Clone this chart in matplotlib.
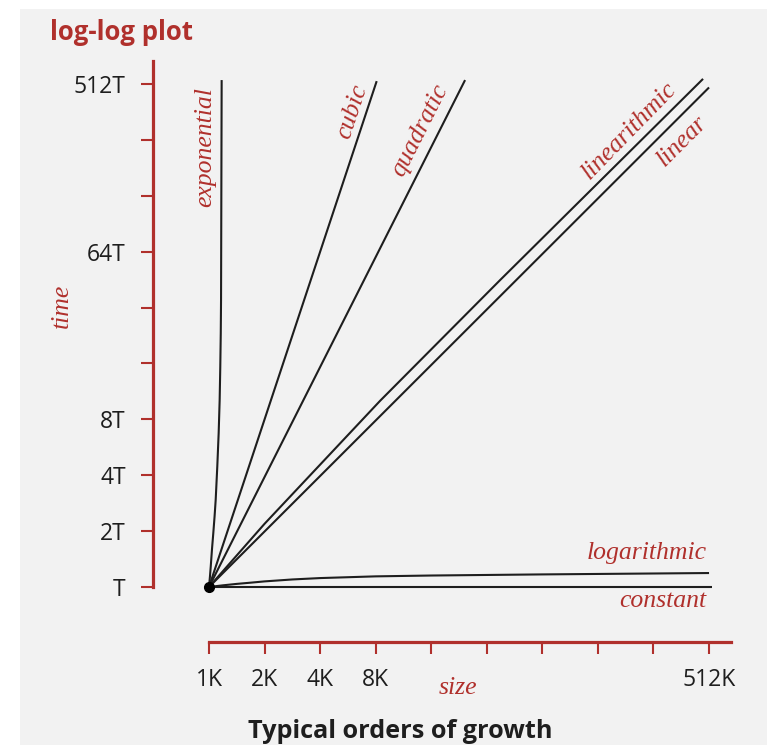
import matplotlib
matplotlib.use("Agg")
import matplotlib.pyplot as plt
from matplotlib.patches import Rectangle
from matplotlib.ticker import FixedLocator, FixedFormatter, NullLocator

# ---------------- data (sizes in K, times in T) ----------------
tick_values = [1, 2, 4, 8, 16, 32, 64, 128, 256, 512]
x_tick_labels = ["1K", "2K", "4K", "8K", "", "", "", "", "", "512K"]
y_tick_labels = ["T", "2T", "4T", "8T", "", "", "64T", "", "", "512T"]

constant_size = [1, 530]
constant_time = [1, 1]

log_size = [1, 1.19, 1.41, 1.68, 2, 2.83, 4, 8, 16, 64, 512]
log_time = [1, 1.021, 1.039, 1.055, 1.072, 1.098, 1.117, 1.141, 1.153, 1.169, 1.189]

linear_size = [1, 512]
linear_time = [1, 490]

nlogn_size = [1, 2, 8.45, 37.8, 475]
nlogn_time = [1, 2.19, 10.06, 45, 545]

quad_size = [1, 24.4]
quad_time = [1, 537]

cubic_size = [1, 8.1]
cubic_time = [1, 530]

exp_size = [1, 1.012, 1.022, 1.038, 1.055, 1.072, 1.087, 1.109, 1.128, 1.142, 1.151, 1.158, 1.162, 1.171]
exp_time = [1, 1.14, 1.29, 1.6, 1.95, 2.4, 2.95, 4.47, 6.73, 10.1, 15.3, 23.3, 35.0, 537]

# ---------------- style ----------------
RED = "#b0302c"
INK = "#1e1e1e"
W, H = 767, 745
SANS = ["Open Sans", "DejaVu Sans"]
SERIF = ["Liberation Serif", "DejaVu Serif"]

fig = plt.figure(figsize=(W / 100, H / 100), dpi=100)
fig.patch.set_facecolor("white")
fig.patches.append(Rectangle((20 / W, 0), 1, 1 - 9 / H, transform=fig.transFigure,
                             facecolor="#f2f2f2", edgecolor="none", zorder=-10))

ax = fig.add_axes([153 / W, 1 - 642 / H, (731 - 153) / W, (642 - 61) / H])
ax.set_facecolor("none")
ax.set_xscale("log", base=2)
ax.set_yscale("log", base=2)
ax.set_xlim(2 ** -1.008, 2 ** 9.395)
ax.set_ylim(2 ** -0.984, 2 ** 9.41)

for s in ["top", "right"]:
    ax.spines[s].set_visible(False)
for s in ["left", "bottom"]:
    ax.spines[s].set_color(RED)
    ax.spines[s].set_linewidth(2.3)
ax.spines["left"].set_bounds(1, 2 ** 9.41)
ax.spines["bottom"].set_bounds(1, 2 ** 9.395)

ax.xaxis.set_major_locator(FixedLocator(tick_values))
ax.xaxis.set_major_formatter(FixedFormatter(x_tick_labels))
ax.yaxis.set_major_locator(FixedLocator(tick_values))
ax.yaxis.set_major_formatter(FixedFormatter(y_tick_labels))
ax.xaxis.set_minor_locator(NullLocator())
ax.yaxis.set_minor_locator(NullLocator())
ax.tick_params(axis="both", which="major", direction="out", length=8.6, width=1.5,
               color=RED, labelcolor=INK, labelsize=16.5)
ax.tick_params(axis="y", pad=11)
ax.tick_params(axis="x", pad=10)
for lab in ax.get_xticklabels() + ax.get_yticklabels():
    lab.set_family(SANS)

lw = 1.5
for xs, ys in [(constant_size, constant_time), (log_size, log_time),
               (linear_size, linear_time), (nlogn_size, nlogn_time),
               (quad_size, quad_time), (cubic_size, cubic_time),
               (exp_size, exp_time)]:
    ax.plot(xs, ys, color=INK, lw=lw, solid_capstyle="butt", solid_joinstyle="round",
            clip_on=False)
ax.plot([1], [1], "o", color="black", ms=7, clip_on=False, zorder=5)

# ---------------- labels ----------------
def px(x, y):
    return x / W, 1 - y / H

lab_kw = dict(color=RED, style="italic", family=SERIF, fontsize=18.5)
fig.text(*px(707, 553), "logarithmic", ha="right", va="center", **lab_kw)
fig.text(*px(706, 601), "constant", ha="right", va="center", **lab_kw)
fig.text(*px(205, 147), "exponential", ha="center", va="center", rotation=90, **lab_kw)
fig.text(*px(352, 112), "cubic", ha="center", va="center", rotation=71.7, rotation_mode="anchor", **lab_kw)
fig.text(*px(420, 130), "quadratic", ha="center", va="center", rotation=63.2, rotation_mode="anchor", **lab_kw)
fig.text(*px(629, 131), "linearithmic", ha="center", va="center", rotation=45.8, rotation_mode="anchor", **lab_kw)
fig.text(*px(682, 141), "linear", ha="center", va="center", rotation=45, rotation_mode="anchor", **lab_kw)
fig.text(*px(62, 306), "time", ha="center", va="center", rotation=90, **lab_kw)
fig.text(*px(458, 688), "size", ha="center", va="center", **lab_kw)

fig.text(*px(50, 33), "log-log plot", ha="left", va="center", color=RED,
         family=SANS, fontweight="bold", fontsize=18.5)
fig.text(*px(400, 731), "Typical orders of growth", ha="center", va="center",
         color=INK, family=SANS, fontweight="bold", fontsize=18.2)

fig.savefig("out.png", dpi=100)
